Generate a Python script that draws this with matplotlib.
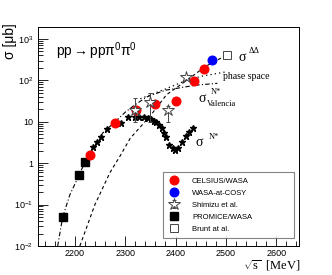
import matplotlib
matplotlib.use('Agg')
import matplotlib.pyplot as plt
from matplotlib.ticker import FixedLocator, MultipleLocator, LogLocator, NullFormatter

plt.rcParams['font.family'] = ['Liberation Sans', 'DejaVu Sans']
plt.rcParams['mathtext.fontset'] = 'custom'
plt.rcParams['mathtext.rm'] = 'Liberation Serif'
plt.rcParams['mathtext.it'] = 'Liberation Serif:italic'
plt.rcParams['mathtext.sf'] = 'Liberation Sans'

# measured data
celsius_x = [2230, 2279, 2321, 2360, 2400, 2436, 2457]
celsius_y = [1.6, 9.4, 19.3, 27, 32, 96, 188]
cosy_x = [2473]
cosy_y = [311]
shimizu_x = [2320, 2349, 2386, 2420]
shimizu_y = [19, 30, 19, 120]
shimizu_lo = [10, 10, 10, 105]
shimizu_hi = [37, 50, 24, 135]
promice_x = [2176, 2208, 2220]
promice_y = [0.05, 0.52, 1.07]
brunt_x = [2503]
brunt_y = [410]

# N* contribution (stars)
nstar_x = [2236, 2244, 2253, 2263, 2291, 2305, 2319, 2328, 2337, 2345, 2352, 2358,
           2362, 2368, 2374, 2378, 2382, 2388, 2394, 2399, 2404, 2412, 2420, 2426, 2434]
nstar_y = [2.5, 3.3, 4.3, 6.7, 9.4, 13, 13, 12.8, 13, 12.5, 11.7, 10.5,
           9.9, 8.3, 7.1, 5.5, 4.3, 2.75, 2.3, 2.1, 2.3, 3.2, 4.5, 5.7, 7.1]

# model curves
val_x = [2166, 2176, 2190, 2208, 2220, 2235, 2255, 2280, 2300, 2320, 2343, 2380, 2441, 2483]
val_y = [0.01, 0.05, 0.17, 0.5, 1.05, 2.2, 5.3, 10, 17, 26, 40, 58, 77, 85]
ps_x = [2330, 2350, 2380, 2414, 2450, 2499]
ps_y = [36, 45, 62, 92, 125, 160]
dd_x = [2210, 2240, 2270, 2290, 2310, 2350, 2382, 2422, 2460, 2500]
dd_y = [0.01, 0.1, 0.6, 1.5, 4, 14, 45, 100, 220, 400]

fig = plt.figure(figsize=(3.32, 2.75), dpi=100)
ax = fig.add_axes([0.1145, 0.1055, 0.786, 0.7963])

ax.plot(val_x, val_y, color='black', lw=0.8, ls=(0, (4, 2, 1, 2)))
ax.plot(ps_x, ps_y, color='black', lw=0.9, ls=(0, (1, 2.5)))
ax.plot(dd_x, dd_y, color='black', lw=0.8, ls=(0, (3, 2.5)))

ax.plot(nstar_x, nstar_y, ls='none', marker='*', ms=5, color='black')

ax.plot(promice_x, promice_y, ls='none', marker='s', ms=6, color='black', label='PROMICE/WASA')
ax.plot(celsius_x, celsius_y, ls='none', marker='o', ms=6.2, color='red', mec='red', label='CELSIUS/WASA')
ax.plot(cosy_x, cosy_y, ls='none', marker='o', ms=6.2, color='blue', mec='blue', label='WASA-at-COSY')
lo = [y - l for y, l in zip(shimizu_y, shimizu_lo)]
hi = [h - y for y, h in zip(shimizu_y, shimizu_hi)]
ax.errorbar(shimizu_x, shimizu_y, yerr=[lo, hi], fmt='*', ms=9, mfc='white', mec='#444444',
            mew=0.7, ecolor='#444444', elinewidth=0.7, capsize=1.5, label='Shimizu et al.')
ax.plot(brunt_x, brunt_y, ls='none', marker='s', ms=6, mfc='white', mec='#444444', mew=0.7,
        label='Brunt at al.')

ax.set_yscale('log')
ax.set_xlim(2127, 2645)
ax.set_ylim(0.01, 1950)

ax.yaxis.set_major_locator(FixedLocator([0.01, 0.1, 1, 10, 100, 1000]))
ax.yaxis.set_minor_locator(LogLocator(base=10, subs=range(2, 10)))
ax.yaxis.set_minor_formatter(NullFormatter())
ax.set_yticklabels([r'$\mathsf{10^{-2}}$', r'$\mathsf{10^{-1}}$', '1', '10',
                    r'$\mathsf{10^{2}}$', r'$\mathsf{10^{3}}$'])
ax.xaxis.set_major_locator(MultipleLocator(100))
ax.xaxis.set_minor_locator(MultipleLocator(20))

ax.tick_params(which='both', direction='in', labelsize=6.5, top=False, right=False)
ax.tick_params(which='major', length=7, width=0.6)
ax.tick_params(which='minor', length=3.5, width=0.6)
ax.tick_params(axis='x', pad=2.5)
for s in ax.spines.values():
    s.set_linewidth(0.7)

ax.text(0.07, 0.94, r'$\mathsf{pp\rightarrow pp\pi^{0}\pi^{0}}$', transform=ax.transAxes,
        fontsize=10, va='top', ha='left')
fig.text(0.03, 0.85, 'σ [μb]', rotation=90, fontsize=10, va='center', ha='center')
fig.text(0.905, 0.035, r'$\sqrt{\mathrm{s}}$  [MeV]', fontsize=9, ha='right', va='center',
         family='Liberation Serif')

ax.text(2525, 350, 'σ', fontsize=10, family='Liberation Serif', ha='left', va='center')
ax.text(2546, 500, 'ΔΔ', fontsize=6, family='Liberation Serif', ha='left', va='center')
ax.text(2495, 125, 'phase space', fontsize=7, family='Liberation Serif', ha='left', va='center')
ax.text(2445, 36, 'σ', fontsize=10, family='Liberation Serif', ha='left', va='center')
ax.text(2470, 52, 'N*', fontsize=6, family='Liberation Serif', ha='left', va='center')
ax.text(2463, 27, 'Valencia', fontsize=6, family='Liberation Serif', ha='left', va='center')
ax.text(2440, 3.1, 'σ', fontsize=10, family='Liberation Serif', ha='left', va='center')
ax.text(2466, 4.3, 'N*', fontsize=6, family='Liberation Serif', ha='left', va='center')

handles, labels = ax.get_legend_handles_labels()
order = ['CELSIUS/WASA', 'WASA-at-COSY', 'Shimizu et al.', 'PROMICE/WASA', 'Brunt at al.']
hmap = dict(zip(labels, handles))
leg = ax.legend([hmap[k] for k in order], order, loc='lower left',
                bbox_to_anchor=(0.479, 0.037, 0.502, 0.278), mode='expand',
                fontsize=5.5, frameon=True, fancybox=False, edgecolor='#666666',
                borderpad=0.7, labelspacing=0.6, handletextpad=1.6, handlelength=1.5,
                borderaxespad=0)
leg.get_frame().set_linewidth(0.8)

fig.savefig('out.png', dpi=100)
